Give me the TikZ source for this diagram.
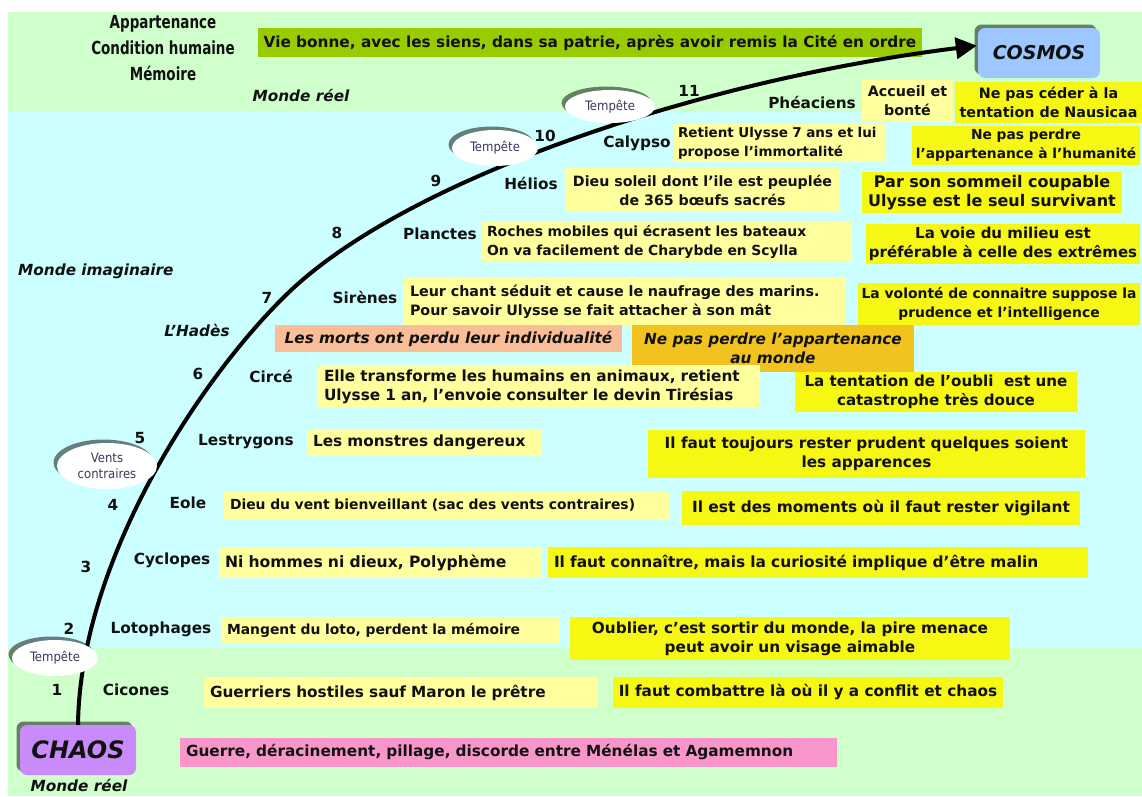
\documentclass[tikz,border=0pt]{standalone}
\usepackage{fontspec}
\setmainfont{DejaVu Sans}
\newfontfamily\condf{DejaVu Sans Condensed}
\usetikzlibrary{arrows.meta,shadows,shapes.geometric}
\definecolor{bandgreen}{HTML}{CFFFCB}
\definecolor{bandcyan}{HTML}{CCFFFF}
\definecolor{ltyellow}{HTML}{FFFF9E}
\definecolor{bryellow}{HTML}{F7F714}
\definecolor{viegreen}{HTML}{99CC00}
\definecolor{salmon}{HTML}{F9BE98}
\definecolor{orangebox}{HTML}{F2C31E}
\definecolor{pinkbox}{HTML}{F896CC}
\definecolor{chaospurple}{HTML}{C98BFA}
\definecolor{cosmosblue}{HTML}{9CC8FF}
\definecolor{txt}{HTML}{111111}
\definecolor{stormtxt}{HTML}{3A3A60}
\begin{document}
\begin{tikzpicture}[x=1pt,y=-1pt,
  every node/.style={text=txt},
  tf/.style={font=\fontsize{15.3}{19}\selectfont\bfseries},
  fs/.style={font=\fontsize{#1}{19}\selectfont\bfseries},
  tfi/.style={font=\fontsize{15.3}{19}\selectfont\bfseries\itshape},
  lt/.style={tf, fill=ltyellow, inner sep=3pt, align=center},
  ltl/.style={tf, fill=ltyellow, inner xsep=6pt, inner ysep=3pt, align=left, text width=#1},
  by/.style={tf, fill=bryellow, inner sep=3pt, align=center},
  byl/.style={tf, fill=bryellow, inner xsep=6pt, inner ysep=3pt, align=left, text width=#1},
  lab/.style={tf, inner sep=0pt},
  world/.style={font=\fontsize{15.3}{18}\selectfont\bfseries\itshape, inner sep=0pt},
  head/.style={font=\condf\fontsize{15}{17}\selectfont\bfseries, inner sep=0pt},
  shad/.style={drop shadow={shadow xshift=-3.5pt, shadow yshift=3.5pt, fill=black, opacity=0.5}},
  storm/.style={ellipse, fill=white, inner sep=0pt, align=center, shad,
    font=\condf\fontsize{13}{15.5}\selectfont, text=stormtxt},
  big/.style={rounded corners=7pt, inner sep=0pt, shad},
  arr/.style={line width=4pt, -{Triangle[length=21pt,width=21pt]}, shorten >=1pt}
]
\useasboundingbox (0,0) rectangle (1142,796);
\fill[white] (0,0) rectangle (1142,796);
% bands
\fill[bandgreen] (8,12) rectangle (1142,112);
\fill[bandcyan] (8,112) rectangle (1142,648);
\fill[bandgreen] (8,648) rectangle (1142,796);

% headings
\node[head] (h1) at (163,24) {\scalebox{1}[1.2]{Appartenance}};
\node[head] (h2) at (163,48) {\scalebox{1}[1.2]{Condition humaine}};
\node[head] (h3) at (163,73) {\scalebox{1}[1.2]{Mémoire}};
\node[tf, fill=viegreen, minimum width=664, minimum height=29, inner sep=3pt] (vie) at (590,42.5)
  {Vie bonne, avec les siens, dans sa patrie, après avoir remis la Cité en ordre};
\node[world] (mr1) at (301,95) {Monde réel};
\node[world, anchor=west] (mi) at (18,271) {Monde imaginaire};
\node[world] (hades) at (197,330) {L'Hadès};
\node[world] (mr2) at (79,785) {Monde réel};

% 11 Pheaciens
\node[lab] (n11) at (689,91) {11};
\node[lab] (l11) at (812,102) {Phéaciens};
\node[lt, fs=14.3, minimum width=91, minimum height=42] (b11) at (907.5,101) {Accueil et\\bonté};
\node[by, fs=14.3, minimum width=187, minimum height=41] (r11) at (1048.5,102.5) {Ne pas céder à la\\tentation de Nausicaa};
% 10 Calypso
\node[lab] (n10) at (545,136) {10};
\node[lab] (l10) at (637,143) {Calypso};
\node[ltl=204, fs=13.5, inner xsep=4pt, minimum height=38] (b10) at (780,143) {\mbox{Retient Ulysse 7 ans et lui}\\\mbox{propose l'immortalité}};
\node[by, fs=13.8, minimum width=228, minimum height=39] (r10) at (1026,145.5) {Ne pas perdre\\l'appartenance à l'humanité};
% 9 Helios
\node[lab] (n9) at (436,181) {9};
\node[lab] (l9) at (531,183) {Hélios};
\node[lt, fs=14.2, minimum width=275, minimum height=44] (b9) at (702.5,190) {Dieu soleil dont l'ile est peuplée\\de 365 bœufs sacrés};
\node[by, fs=16, minimum width=260, minimum height=41] (r9) at (992,192.5) {Par son sommeil coupable\\Ulysse est le seul survivant};
% 8 Planctes
\node[lab] (n8) at (337,233) {8};
\node[lab] (l8) at (440,234) {Planctes};
\node[ltl=359, fs=13.9, minimum height=40] (b8) at (666.5,242) {Roches mobiles qui écrasent les bateaux\\On va facilement de Charybde en Scylla};
\node[by, fs=15, minimum width=274, minimum height=40] (r8) at (1003,244) {La voie du milieu est\\préférable à celle des extrêmes};
% 7 Sirenes
\node[lab] (n7) at (267,298) {7};
\node[lab] (l7) at (365,297) {Sirènes};
\node[ltl=429, fs=14.3, minimum height=47] (b7) at (624.5,301.5) {Leur chant séduit et cause le naufrage des marins.\\Pour savoir Ulysse se fait attacher à son mât};
\node[by, fs=13.9, minimum width=282, minimum height=42] (r7) at (999,304) {La volonté de connaitre suppose la\\prudence et l'intelligence};
% Hades
\node[tfi, fill=salmon, minimum width=347, minimum height=27, inner sep=3pt] (bh) at (448.5,338.5) {Les morts ont perdu leur individualité};
\node[tfi, fill=orangebox, minimum width=282, minimum height=47, inner sep=3pt, align=center] (rh) at (773,348.5) {Ne pas perdre l'appartenance\\au monde};
% 6 Circe
\node[lab] (n6) at (198,374) {6};
\node[lab] (l6) at (271,376) {Circé};
\node[ltl=430, minimum height=43] (b6) at (539,386.5) {Elle transforme les humains en animaux, retient\\Ulysse 1 an, l'envoie consulter le devin Tirésias};
\node[by, fs=15.1, minimum width=282, minimum height=40] (r6) at (936,392) {La tentation de l'oubli\ \ est une\\catastrophe très douce};
% 5 Lestrygons
\node[lab] (n5) at (140,438) {5};
\node[lab] (l5) at (246,442) {Lestrygons};
\node[ltl=223, minimum height=25] (b5) at (424.5,442.5) {Les monstres dangereux};
\node[by, minimum width=437, minimum height=48] (r5) at (866.5,454) {Il faut toujours rester prudent quelques soient\\les apparences};
% 4 Eole
\node[lab] (n4) at (113,505) {4};
\node[lab] (l4) at (188,503) {Eole};
\node[ltl=434, fs=13.9, minimum height=29] (b4) at (447,505.5) {Dieu du vent bienveillant (sac des vents contraires)};
\node[by, fs=15.4, minimum width=398, minimum height=34] (r4) at (881,508) {Il est des moments où il faut rester vigilant};
% 3 Cyclopes
\node[lab] (n3) at (86,567) {3};
\node[lab] (l3) at (172,560) {Cyclopes};
\node[ltl=311, fs=15.6, minimum height=31] (b3) at (380.5,562.5) {Ni hommes ni dieux, Polyphème};
\node[byl=528, fs=15.4, minimum height=31] (r3) at (818,562.5) {Il faut connaître, mais la curiosité implique d'être malin};
% 2 Lotophages
\node[lab] (n2) at (69,629) {2};
\node[lab] (l2) at (161,629) {Lotophages};
\node[ltl=327, fs=13.9, minimum height=26] (b2) at (390.5,630) {Mangent du loto, perdent la mémoire};
\node[by, minimum width=440, minimum height=43] (r2) at (790,638.5) {Oublier, c'est sortir du monde, la pire menace\\peut avoir un visage aimable};
% 1 Cicones
\node[lab] (n1) at (57,690) {1};
\node[lab] (l1) at (136,690) {Cicones};
\node[ltl=382, minimum height=31] (b1) at (401,692.5) {Guerriers hostiles sauf Maron le prêtre};
\node[by, minimum width=390, minimum height=31] (r1) at (808,692.5) {Il faut combattre là où il y a conflit et chaos};
% Chaos row
\node[tf, fill=pinkbox, inner xsep=6pt, inner ysep=3pt, text width=645, align=left, minimum height=29] (b0) at (508.5,752.5)
  {Guerre, déracinement, pillage, discorde entre Ménélas et Agamemnon};

% chaos / cosmos
\node[big, fill=chaospurple, minimum width=116, minimum height=50,
  font=\fontsize{24}{28}\selectfont\bfseries\itshape] (chaos) at (78,750) {CHAOS};
\node[big, fill=cosmosblue, minimum width=122, minimum height=50,
  font=\fontsize{19}{23}\selectfont\bfseries\itshape] (cosmos) at (1039,53) {COSMOS};

% the journey
\draw[arr] (chaos.north) .. controls (80,560) and (200,380) .. (283,298)
  .. controls (400,180) and (700,80) .. (cosmos.173);

% storms
\node[storm, minimum width=86, minimum height=36] (s1) at (55,658) {Tempête};
\node[storm, minimum width=100, minimum height=46] (s2) at (107,466) {Vents\\contraires};
\node[storm, minimum width=86, minimum height=36] (s3) at (495,148) {Tempête};
\node[storm, minimum width=90, minimum height=33] (s4) at (610,106.5) {Tempête};
\end{tikzpicture}
\end{document}
